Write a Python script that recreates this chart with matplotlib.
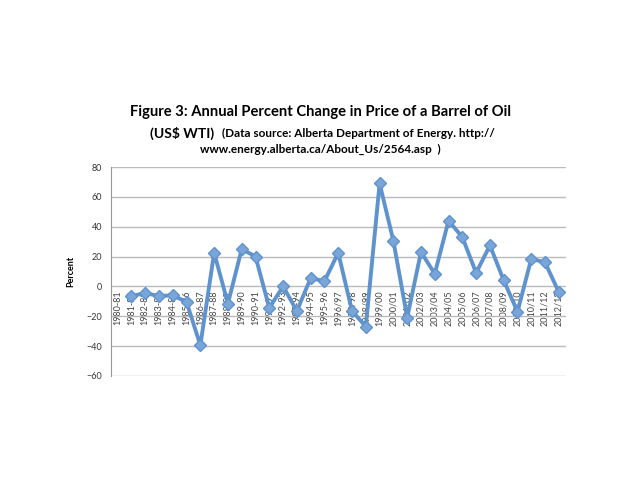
import numpy as np
import matplotlib
matplotlib.use("Agg")
import matplotlib.pyplot as plt

years = ["1980-81", "1981-82", "1982-83", "1983-84", "1984-85", "1985-86", "1986-87",
         "1987-88", "1988-89", "1989-90", "1990-91", "1991-92", "1992-93", "1993-94",
         "1994-95", "1995-96", "1996/97", "1997/98", "1998/99", "1999/00", "2000/01",
         "2001/02", "2002/03", "2003/04", "2004/05", "2005/06", "2006/07", "2007/08",
         "2008/09", "2009/10", "2010/11", "2011/12", "2012/13"]
pct_change = [np.nan, -6.5, -4.5, -6.5, -6, -10.5, -39.5, 22.5, -11.5, 25, 20, -14.5, 0,
              -16.5, 5.5, 3.5, 22.5, -16.5, -27, 69, 30.5, -21, 23, 8.5, 44, 33, 9, 27.5,
              4, -17, 18.5, 16, -4]
yticks = [-60, -40, -20, 0, 20, 40, 60, 80]

plt.rcParams['font.family'] = ['Lato', 'DejaVu Sans']

fig = plt.figure(figsize=(6.4, 4.8), dpi=100)
ax = fig.add_axes([0.173, 0.217, 0.711, 0.435])

# category axis sits on the zero line like the Excel chart
ax.spines['bottom'].set_position(('data', 0))
ax.spines['bottom'].set_visible(False)
ax.spines['top'].set_visible(False)
ax.spines['right'].set_visible(False)
ax.spines['left'].set_color('#999999')

x = np.arange(len(years))
ax.plot(x, pct_change, color='#5f93cd', lw=2.8, marker='D', ms=6,
        mfc='#7aa5d8', mec='#5f93cd', zorder=3)

ax.set_ylim(-60, 80)
ax.set_yticks(yticks)
ax.set_xlim(-0.5, len(years) - 0.5)
ax.set_xticks(x)
ax.set_xticklabels(years)
ax.tick_params(axis='x', labelrotation=90, labelsize=6.5, labelcolor='#444444', length=0, pad=3)
ax.tick_params(axis='y', labelsize=6.5, labelcolor='#333333', length=0, pad=6)
ax.grid(axis='y', color='#bbbbbb', lw=1)
ax.set_axisbelow(True)

ax.set_ylabel("Percent", fontsize=6.5, fontweight='bold', labelpad=8)

fig.text(0.5, 0.767, "Figure 3: Annual Percent Change in Price of a Barrel of Oil",
         ha='center', va='center', fontsize=10.6, fontweight='bold')
fig.text(0.234, 0.723, "(US$ WTI)", ha='left', va='center', fontsize=10, fontweight='bold')
fig.text(0.347, 0.721, "(Data source: Alberta Department of Energy. http://",
         ha='left', va='center', fontsize=8.5, fontweight='bold')
fig.text(0.5, 0.688, "www.energy.alberta.ca/About_Us/2564.asp  )",
         ha='center', va='center', fontsize=8.5, fontweight='bold')

fig.savefig("out.png", dpi=100)
